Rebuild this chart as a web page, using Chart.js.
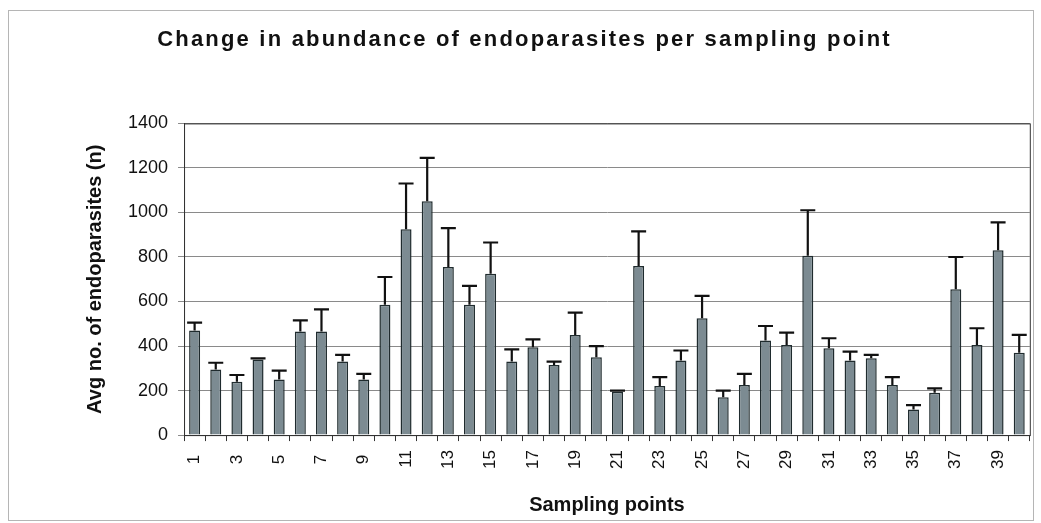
<!DOCTYPE html>
<html>
<head>
  <title>Endoparasites per sampling point</title>
  <script src="https://cdn.jsdelivr.net/npm/chart.js@4/dist/chart.umd.min.js"></script>
  <style>
    body { margin: 0; background: #fff; }
    .frame {
      position: absolute; left: 8px; top: 10px; width: 1026px; height: 511px;
      border: 1px solid #b5b5b5; box-sizing: border-box;
    }
    .wrap { position: absolute; left: 0; top: 0; width: 1041px; height: 523px; }
  </style>
</head>
<body>
  <div class="frame"></div>
  <div class="wrap"><canvas id="chart" width="1041" height="523"></canvas></div>
  <script>
    // sampling points 1..40
    var points = [];
    for (var i = 1; i <= 40; i++) points.push(String(i));

    var means = [470, 295, 240, 340, 250, 465, 465, 330, 250, 585,
                 925, 1050, 755, 585, 725, 330, 395, 315, 450, 350,
                 195, 760, 220, 335, 525, 170, 225, 425, 405, 805,
                 390, 335, 345, 225, 115, 190, 655, 405, 830, 370];

    // top of the error bar
    var upper = [505, 325, 270, 345, 290, 515, 565, 360, 275, 710,
                 1130, 1245, 930, 670, 865, 385, 430, 330, 550, 400,
                 200, 915, 260, 380, 625, 200, 275, 490, 460, 1010,
                 435, 375, 360, 260, 135, 210, 800, 480, 955, 450];

    var errorBars = {
      id: 'errorBars',
      afterDatasetsDraw: function(chart) {
        var ctx = chart.ctx;
        var meta = chart.getDatasetMeta(0);
        var y = chart.scales.y;
        ctx.save();
        ctx.strokeStyle = '#111';
        ctx.lineWidth = 2.2;
        meta.data.forEach(function(bar, i) {
          var top = y.getPixelForValue(upper[i]);
          ctx.beginPath();
          ctx.moveTo(bar.x, bar.y);
          ctx.lineTo(bar.x, top);
          ctx.moveTo(bar.x - 7.5, top);
          ctx.lineTo(bar.x + 7.5, top);
          ctx.stroke();
        });
        // plot box
        var a = chart.chartArea;
        ctx.strokeStyle = '#333';
        ctx.lineWidth = 1;
        ctx.strokeRect(a.left + 0.5, a.top + 0.5, a.right - a.left, a.bottom - a.top);
        ctx.restore();
      }
    };

    var chart = new Chart(document.getElementById('chart'), {
      type: 'bar',
      data: {
        labels: points,
        datasets: [{
          data: means,
          backgroundColor: '#7c8b92',
          borderColor: '#1f2b2e',
          borderWidth: 1.5,
          barPercentage: 0.52,
          categoryPercentage: 1
        }]
      },
      options: {
        responsive: false,
        animation: false,
        layout: { padding: { left: 10, right: 2, top: 8, bottom: 2 } },
        plugins: {
          legend: { display: false },
          tooltip: { enabled: false },
          title: {
            display: true,
            text: 'Change in abundance of endoparasites per sampling point',
            color: '#111',
            font: { family: 'Liberation Sans', size: 22, weight: 'bold' },
            padding: { top: 19, bottom: 70 }
          }
        },
        scales: {
          x: {
            grid: { display: true, drawOnChartArea: false, offset: true, color: '#333', tickLength: 6 },
            border: { color: '#333' },
            ticks: {
              autoSkip: false,
              minRotation: 90,
              maxRotation: 90,
              padding: 9,
              color: '#111',
              font: { family: 'Liberation Sans', size: 17, lineHeight: 0.75 },
              // odd points only; short labels sit centred like the two-digit ones
              callback: function(v, i) {
                if (i % 2) return '';
                return points[i].length < 2 ? points[i] + ' ' : points[i];
              }
            },
            title: {
              display: true,
              text: 'Sampling points',
              color: '#111',
              font: { family: 'Liberation Sans', size: 20, weight: 'bold' },
              padding: { top: 15 }
            }
          },
          y: {
            min: 0,
            max: 1400,
            ticks: {
              stepSize: 200,
              color: '#111',
              font: { family: 'Liberation Sans', size: 18 },
              padding: 10,
              callback: function(v) { return String(v); }
            },
            grid: { color: '#8a8a8a', tickLength: 6 },
            border: { color: '#333' },
            title: {
              display: true,
              text: 'Avg no. of endoparasites (n)',
              color: '#111',
              font: { family: 'Liberation Sans', size: 20, weight: 'bold' },
              padding: { top: 73, bottom: 11 }
            }
          }
        }
      },
      plugins: [errorBars]
    });

    // spaced-out lettering of the main title
    var tb = chart.titleBlock;
    var drawTitle = tb.draw.bind(tb);
    tb.draw = function() {
      var ctx = chart.ctx;
      var old = ctx.letterSpacing;
      ctx.letterSpacing = '2.2px';
      drawTitle();
      ctx.letterSpacing = old;
    };
    chart.draw();
  </script>
</body>
</html>
